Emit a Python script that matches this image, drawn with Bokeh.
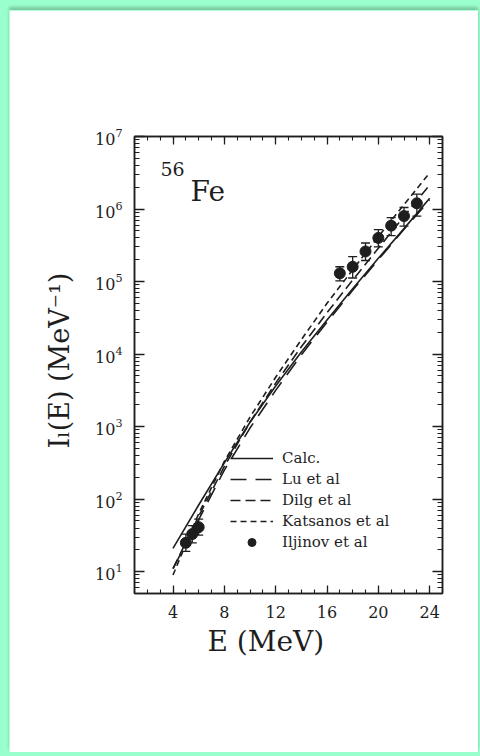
from bokeh.plotting import figure
from bokeh.models import (Range1d, LinearAxis, LogAxis, SingleIntervalTicker, LogTicker,
                          Label, Legend, LegendItem, ColumnDataSource, Whisker, TeeHead,
                          CustomJSTickFormatter, GlobalInlineStyleSheet, Title)
from bokeh.embed import file_html
from bokeh.resources import INLINE

# ---------------- data ----------------
energy = [4, 6, 8, 10, 12, 14, 16, 18, 20, 22, 24]
calc = [21, 83, 316, 1150, 3630, 10700, 29500, 79400, 209000, 537000, 1410000]
lu_et_al = [11, 52, 251, 955, 3160, 9770, 27500, 75900, 200000, 525000, 1320000]
dilg_et_al = [11, 58, 282, 1150, 3980, 12600, 37200, 105000, 288000, 794000, 2140000]
katsanos_et_al = [9, 63, 331, 1350, 4790, 15800, 50100, 145000, 417000, 1150000, 3160000]

iljinov_e = [5, 5.5, 6, 17, 18, 19, 20, 21, 22, 23]
iljinov_i = [25, 33, 41, 130000, 160000, 260000, 400000, 590000, 800000, 1200000]
iljinov_lo = [19, 25, 32, 102000, 112000, 195000, 300000, 430000, 580000, 800000]
iljinov_hi = [33, 43, 53, 160000, 220000, 340000, 520000, 760000, 1050000, 1600000]

x_tick_step = 4

FONT = "DejaVu Serif"
INK = "#1e1e1e"

p = figure(width=469, height=742,
           x_range=Range1d(1, 25), y_range=Range1d(5, 1e7),
           y_axis_type="log", output_backend="svg", toolbar_location=None,
           min_border_left=125, min_border_right=36,
           min_border_top=126, min_border_bottom=159)
p.stylesheets = [GlobalInlineStyleSheet(
    css="html, body { background: #99ffcc !important; } "
        "body { margin: 0 !important; padding: 10px 0 0 9px !important; }")]
p.styles = {"box-shadow": "0 -3px 3px rgba(0,0,0,0.22)"}
p.background_fill_color = "white"
p.border_fill_color = "white"
p.outline_line_color = INK
p.outline_line_width = 1.5
p.xgrid.visible = False
p.ygrid.visible = False

blank = CustomJSTickFormatter(code="return '';")


def style_axis(ax, major_in, minor_in):
    ax.axis_line_color = INK
    ax.axis_line_width = 1.5
    ax.major_tick_in = major_in
    ax.major_tick_out = 0
    ax.minor_tick_in = minor_in
    ax.minor_tick_out = 0
    ax.major_tick_line_color = INK
    ax.minor_tick_line_color = INK
    ax.major_tick_line_width = 1.3
    ax.minor_tick_line_width = 1.1


# bottom axis
xb = p.xaxis[0]
xb.ticker = SingleIntervalTicker(interval=x_tick_step, num_minor_ticks=4)
style_axis(xb, 8, 4)
xb.major_label_text_font = FONT
xb.major_label_text_font_size = "16px"
xb.major_label_text_color = INK
xb.major_label_standoff = 12

# top axis
xtop = LinearAxis(ticker=SingleIntervalTicker(interval=x_tick_step, num_minor_ticks=4),
                  formatter=blank)
style_axis(xtop, 8, 4)
p.add_layout(xtop, "above")

# left axis (10^n labels from Bokeh's log formatter)
yl = p.yaxis[0]
yl.ticker = LogTicker(num_minor_ticks=10)
style_axis(yl, 10, 5)
yl.major_label_text_font = FONT
yl.major_label_text_font_size = "16px"
yl.major_label_text_color = INK
yl.major_label_standoff = 12

# right axis
yr = LogAxis(ticker=LogTicker(num_minor_ticks=10), formatter=blank)
style_axis(yr, 10, 5)
p.add_layout(yr, "right")

# ---------------- curves ----------------
r_calc = p.line(energy, calc, line_color=INK, line_width=1.6)
r_lu = p.line(energy, lu_et_al, line_color=INK, line_width=1.6, line_dash="16 9")
r_dilg = p.line(energy, dilg_et_al, line_color=INK, line_width=1.6, line_dash="10 5")
r_kat = p.line(energy, katsanos_et_al, line_color=INK, line_width=1.6, line_dash="6 4")

src = ColumnDataSource(dict(x=iljinov_e, y=iljinov_i, lo=iljinov_lo, hi=iljinov_hi))
wh = Whisker(source=src, base="x", lower="lo", upper="hi",
             line_color=INK, line_width=1.3,
             upper_head=TeeHead(size=9, line_color=INK, line_width=1.3),
             lower_head=TeeHead(size=9, line_color=INK, line_width=1.3))
p.add_layout(wh)
r_il = p.scatter("x", "y", source=src, size=11, fill_color=INK, line_color=INK)

legend = Legend(items=[LegendItem(label="Calc.", renderers=[r_calc]),
                       LegendItem(label="Lu et al", renderers=[r_lu]),
                       LegendItem(label="Dilg et al", renderers=[r_dilg]),
                       LegendItem(label="Katsanos et al", renderers=[r_kat]),
                       LegendItem(label="Iljinov et al", renderers=[r_il])],
                location=(96, 41), padding=0, margin=0, spacing=1,
                glyph_width=43, glyph_height=20, label_height=20, label_standoff=9,
                label_text_font=FONT, label_text_font_size="15px",
                label_text_color=INK, border_line_color=None,
                background_fill_alpha=0)
p.add_layout(legend)

# ---------------- axis titles ----------------
xtitle = Title(text="E (MeV)", align="left", offset=73, standoff=5,
               text_font=FONT, text_font_size="28px", text_font_style="normal",
               text_color=INK)
p.add_layout(xtitle, "below")

ytitle = Title(text="I\u2097(E) (MeV\u207b\u00b9)", align="left", offset=145, standoff=36,
               text_font=FONT, text_font_size="27px", text_font_style="normal",
               text_color=INK)
p.add_layout(ytitle, "left")

# ---------------- nucleus label ----------------
p.add_layout(Label(x=26, y=425, x_units="screen", y_units="screen", text="56",
                   text_align="left", text_baseline="alphabetic",
                   text_font=FONT, text_font_size="19px", text_color=INK))
p.add_layout(Label(x=56, y=402, x_units="screen", y_units="screen", text="Fe",
                   text_align="left", text_baseline="alphabetic",
                   text_font=FONT, text_font_size="28px", text_color=INK))

open("out.html", "w").write(file_html(p, INLINE))
